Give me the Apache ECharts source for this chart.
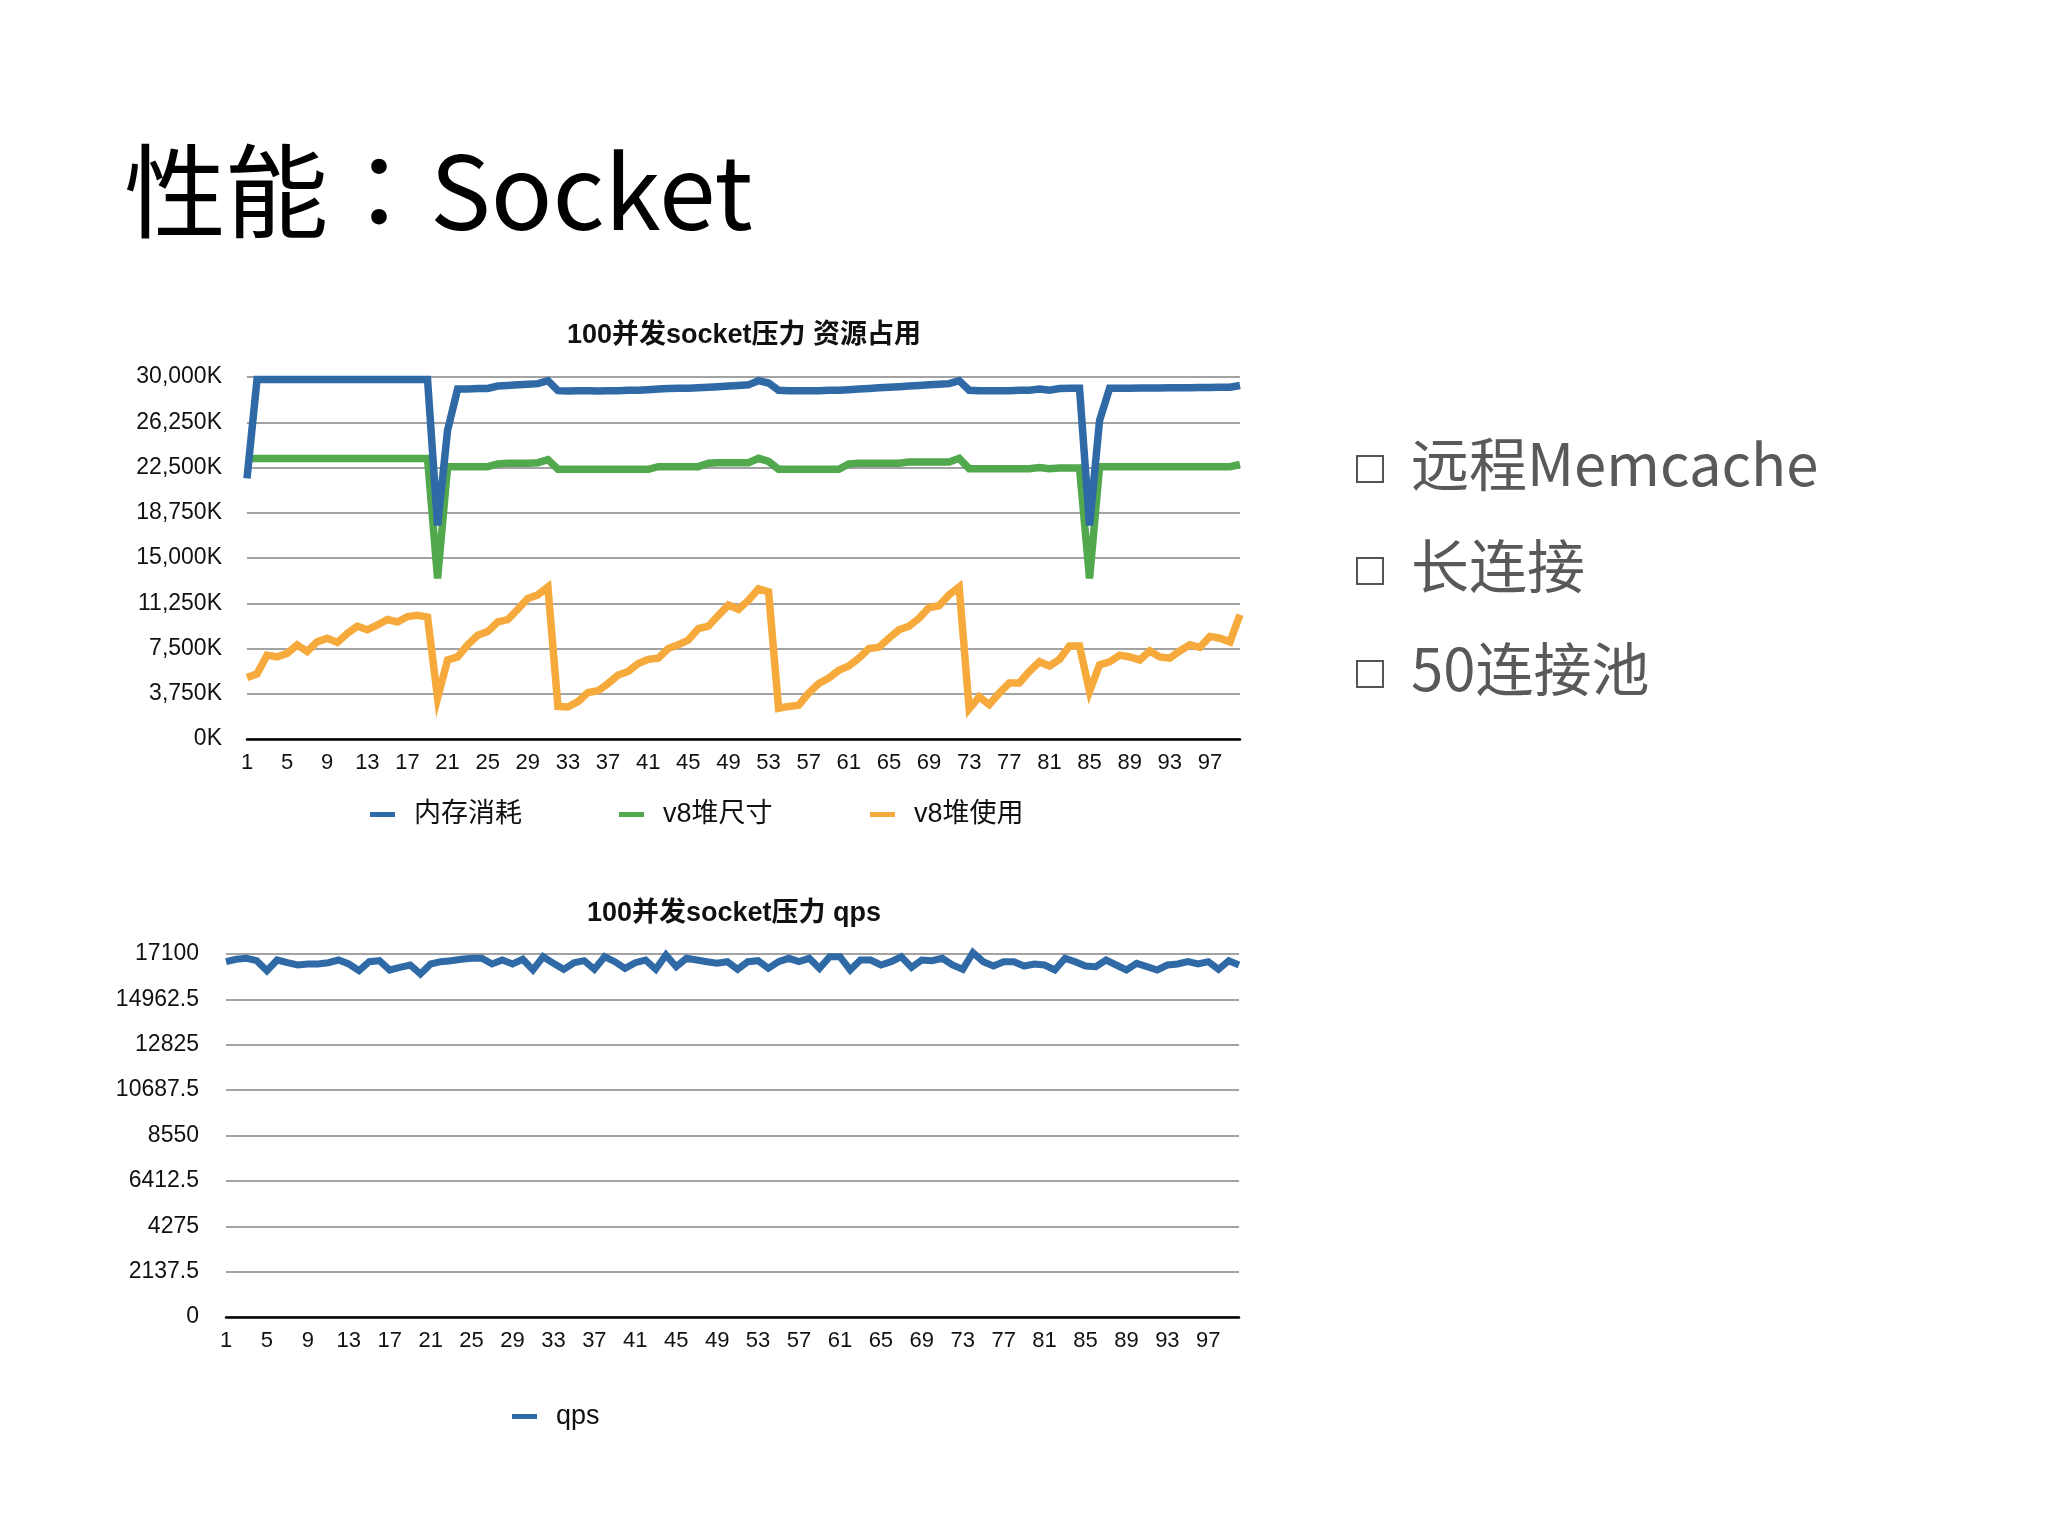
<!DOCTYPE html>
<html><head><meta charset="utf-8">
<script src="https://cdn.jsdelivr.net/npm/echarts@6/dist/echarts.min.js"></script>
<style>html,body{margin:0;padding:0;background:#fff}#c{width:2048px;height:1536px}</style>
</head><body><div id="c"></div>
<script>
// ---------- data ----------
const categories = Array.from({length: 100}, (_, i) => String(i + 1));

const memSeriesName = '内存消耗';
const heapSizeName = 'v8堆尺寸';
const heapUsedName = 'v8堆使用';
const qpsName = 'qps';

const memUsage = [21600,
  29800,29800,29800,29800,29800,29800,29800,29800,29800,29800,29800,29800,29800,29800,29800,29800,29800,29800,
  17700,25600,
  29000,29000,29050,29050,
  29250,29300,29350,29400,29450,
  29700,
  28870,28850,28870,28870,28850,28870,28870,28900,28900,28950,
  29000,29050,29060,29060,29100,29150,
  29200,29250,29300,29350,
  29700,29500,
  28900,28870,28870,28870,28870,28900,28900,
  28950,29000,29050,29100,29150,29200,29250,29300,29350,29400,29450,
  29700,
  28900,28870,28870,28870,28870,28900,28900,29000,28900,29050,29060,29060,
  17700,
  26400,
  29060,29060,29060,29080,29080,29080,29100,29100,29100,29120,29120,29150,29150,
  29300];

const heapSize = [
  23250,23250,23250,23250,23250,23250,23250,23250,23250,23250,23250,23250,23250,23250,23250,23250,23250,23250,23250,
  13300,
  22570,22570,22570,22570,22570,
  22800,22850,22850,22850,22900,
  23150,
  22350,22350,22350,22350,22350,22350,22350,22350,22350,22350,
  22570,22570,22570,22570,22570,
  22850,22900,22900,22900,22900,
  23260,23000,
  22350,22350,22350,22350,22350,22350,22350,
  22800,22850,22850,22850,22850,22850,
  22950,22950,22950,22950,22950,
  23260,
  22400,22400,22400,22400,22400,22400,22400,22500,22400,22450,22450,22450,
  13300,
  22570,22570,22570,22570,22570,22570,22570,22570,22570,22570,22570,22570,22570,22570,
  22750];

const heapUsed = [
  5100,5400,6950,6800,7100,7800,7250,8050,8350,8000,
  8750,9350,9050,9450,9900,9700,10150,10250,10100,3400,
  6550,6800,7800,8600,8900,9700,9900,10750,11650,11950,
  12600,2700,2650,3100,3850,4000,4600,5300,5600,6250,
  6600,6700,7500,7800,8200,9150,9350,10250,11100,10750,
  11500,12450,12200,2550,2700,2800,3800,4600,5050,5700,
  6050,6700,7500,7600,8350,9050,9350,10000,10900,11050,
  11950,12600,2500,3500,2850,3800,4650,4650,5600,6400,
  6050,6600,7700,7700,3950,6150,6400,6950,6800,6550,
  7300,6800,6700,7300,7800,7600,8500,8350,8050,10300];

const qps = [
  16738,16850,16897,16785,16315,16817,16690,16582,16629,16629,
  16690,16817,16629,16315,16738,16785,16346,16473,16582,16158,
  16629,16738,16785,16850,16897,16897,16629,16817,16629,16850,
  16346,16973,16661,16378,16690,16785,16378,16973,16738,16425,
  16690,16817,16378,17053,16500,16897,16817,16738,16661,16738,
  16378,16738,16785,16425,16738,16897,16738,16897,16425,16973,
  16973,16346,16817,16817,16582,16738,16973,16473,16817,16785,
  16897,16582,16378,17160,16738,16535,16738,16738,16535,16629,
  16582,16346,16897,16738,16535,16505,16817,16582,16346,16661,
  16505,16346,16582,16629,16738,16629,16738,16378,16785,16582];

const memAxisMax = 30000, memAxisStep = 3750;
const qpsAxisMax = 17100, qpsAxisStep = 2137.5;

const slideTitle = '性能：Socket';
const chart1Title = '100并发socket压力 资源占用';
const chart2Title = '100并发socket压力 qps';
const bullets = ['远程Memcache', '长连接', '50连接池'];

// ---------- styles ----------
const FONT = '"Liberation Sans","Noto Sans CJK SC",sans-serif';
const BLUE = '#2f6aa6', GREEN = '#52a84c', ORANGE = '#f6aa3c';
const GRID_GRAY = '#a3a3a3';

const chart = echarts.init(document.getElementById('c'), null, {renderer: 'canvas'});

function xAxisCfg(gridIndex) {
  return {
    type: 'category', gridIndex, data: categories, boundaryGap: false,
    axisLine: {show: true, lineStyle: {color: '#000', width: 2.5}},
    axisTick: {show: false},
    splitLine: {show: false},
    axisLabel: {interval: 3, margin: 13, color: '#111', fontSize: 22, fontFamily: FONT}
  };
}
function yAxisCfg(gridIndex, max, step, fmt, margin) {
  return {
    type: 'value', gridIndex, min: 0, max, interval: step,
    axisLine: {show: false}, axisTick: {show: false},
    splitLine: {show: true, lineStyle: {color: GRID_GRAY, width: 2}},
    axisLabel: {margin, color: '#111', fontSize: 23, fontFamily: FONT, formatter: fmt}
  };
}
function legendCfg(name, left, top) {
  return {
    data: [name], left, top, padding: 0, icon: 'rect', itemWidth: 25, itemHeight: 5,
    selectedMode: false,
    textStyle: {fontSize: 27, color: '#111', fontFamily: FONT, padding: [0, 0, 0, 14]}
  };
}
function lineSeries(name, data, color, xi, width, extra) {
  return Object.assign({
    type: 'line', name, data, xAxisIndex: xi, yAxisIndex: xi,
    showSymbol: false, symbol: 'none', animation: false,
    lineStyle: {color, width, join: 'miter'},
    itemStyle: {color}
  }, extra || {});
}

const graphics = [
  {type: 'text', x: 124, y: 191, style: {text: slideTitle, font: 'normal 102px "Noto Sans CJK JP"', fill: '#000', textAlign: 'left', textVerticalAlign: 'middle'}},
  {type: 'text', x: 744, y: 336, style: {text: chart1Title, font: 'bold 27px ' + FONT, fill: '#111', textAlign: 'center', textVerticalAlign: 'middle'}},
  {type: 'text', x: 734, y: 914, style: {text: chart2Title, font: 'bold 27px ' + FONT, fill: '#111', textAlign: 'center', textVerticalAlign: 'middle'}}
];
const bulletY = [464, 566, 669];
bullets.forEach((t, i) => {
  graphics.push({type: 'rect', shape: {x: 1357, y: bulletY[i] - 8, width: 26, height: 26}, style: {fill: 'none', stroke: '#555', lineWidth: 2}});
  graphics.push({type: 'text', x: 1411, y: bulletY[i], style: {text: t, font: 'normal 58px "Noto Sans CJK SC"', fill: '#595959', textAlign: 'left', textVerticalAlign: 'middle'}});
});

chart.setOption({
  backgroundColor: '#ffffff',
  animation: false,
  grid: [
    {left: 247, top: 377, width: 993, height: 362, outerBoundsMode: 'none', containLabel: false},
    {left: 226, top: 954, width: 1013, height: 363, outerBoundsMode: 'none', containLabel: false}
  ],
  xAxis: [xAxisCfg(0), xAxisCfg(1)],
  yAxis: [
    yAxisCfg(0, memAxisMax, memAxisStep, v => v.toLocaleString('en-US') + 'K', 25),
    yAxisCfg(1, qpsAxisMax, qpsAxisStep, v => String(v), 27)
  ],
  legend: [
    legendCfg(memSeriesName, 370, 801),
    legendCfg(heapSizeName, 619, 801),
    legendCfg(heapUsedName, 870, 801),
    legendCfg(qpsName, 512, 1403)
  ],
  series: [
    lineSeries(heapUsedName, heapUsed, ORANGE, 0, 7.5),
    lineSeries(heapSizeName, heapSize, GREEN, 0, 7.5),
    lineSeries(memSeriesName, memUsage, BLUE, 0, 7.5),
    lineSeries(qpsName, qps, BLUE, 1, 7, {clip: false})
  ],
  graphic: graphics
});
</script></body></html>
